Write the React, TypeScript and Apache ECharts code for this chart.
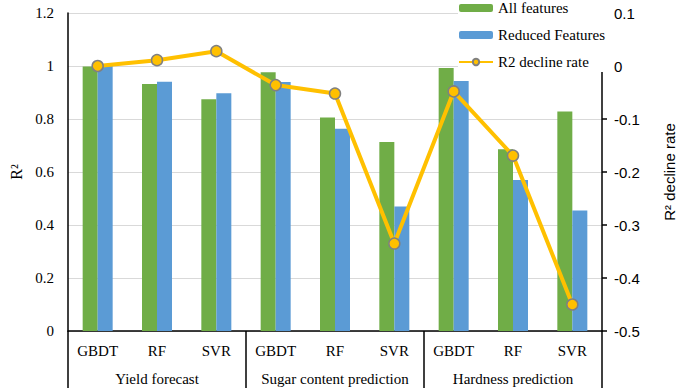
import React, { useEffect, useRef } from "react";
import * as echarts from "echarts";

const models = ["GBDT", "RF", "SVR", "GBDT", "RF", "SVR", "GBDT", "RF", "SVR"];
const groups = ["Yield forecast", "Sugar content prediction", "Hardness prediction"];
const groupSize = 3;
const allFeatures = [0.998, 0.932, 0.875, 0.976, 0.806, 0.713, 0.992, 0.686, 0.828];
const reducedFeatures = [1.0, 0.941, 0.897, 0.94, 0.763, 0.47, 0.943, 0.57, 0.455];
const declineRate = [0.0, 0.011, 0.028, -0.036, -0.052, -0.335, -0.048, -0.169, -0.45];

const serif = "Liberation Serif";
const sans = "Liberation Sans";

export default function App() {
  const ref = useRef<HTMLDivElement>(null);
  useEffect(() => {
    if (!ref.current) return;
    const chart = echarts.init(ref.current, undefined, { renderer: "svg" });
    chart.setOption({
      animation: false,
      backgroundColor: "#fff",
      grid: { left: 56, right: 72, top: 13, bottom: 57 },
      legend: {
        orient: "vertical",
        left: 458,
        top: -2,
        padding: [0, 2, 0, 0],
        backgroundColor: "#fff",
        itemWidth: 34,
        itemHeight: 8,
        itemGap: 7,
        textStyle: { fontFamily: serif, fontSize: 15, color: "#000", lineHeight: 20 },
        data: ["All features", "Reduced Features", "R2 decline rate"],
      },
      xAxis: [
        {
          type: "category",
          data: models,
          position: "bottom",
          axisLine: { show: true, lineStyle: { color: "#000", width: 1.5 } },
          axisTick: { show: false },
          axisLabel: { interval: 0, margin: 12, fontFamily: serif, fontSize: 15, color: "#000" },
        },
        {
          type: "category",
          data: groups,
          position: "bottom",
          axisLine: { show: false },
          axisTick: { show: false },
          axisLabel: { interval: 0, margin: 40, fontFamily: serif, fontSize: 15, color: "#000" },
        },
      ],
      yAxis: [
        {
          type: "value",
          min: 0,
          max: 1.2,
          interval: 0.2,
          name: "R²",
          nameLocation: "middle",
          nameGap: 44,
          nameRotate: 90,
          nameTextStyle: { fontFamily: serif, fontSize: 16, color: "#000" },
          axisLine: { show: true, lineStyle: { color: "#000", width: 1.5 } },
          axisTick: { show: false },
          axisLabel: { margin: 14, fontFamily: serif, fontSize: 15, color: "#000" },
          splitLine: { show: true, lineStyle: { color: "#d9d9d9", width: 1 } },
        },
        {
          type: "value",
          min: -0.5,
          max: 0.1,
          interval: 0.1,
          position: "right",
          name: "R² decline rate",
          nameLocation: "middle",
          nameGap: 60,
          nameRotate: 90,
          nameTextStyle: { fontFamily: sans, fontSize: 15, color: "#000" },
          axisLine: { show: true, lineStyle: { color: "#000", width: 1.5 } },
          axisTick: { show: true, inside: false, length: 5, lineStyle: { color: "#000", width: 1.5 } },
          axisLabel: { margin: 12, fontFamily: sans, fontSize: 15, color: "#000" },
          splitLine: { show: false },
        },
      ],
      series: [
        {
          name: "All features",
          type: "bar",
          data: allFeatures,
          barWidth: 15,
          barGap: "0%",
          itemStyle: { color: "#70AD47" },
        },
        {
          name: "Reduced Features",
          type: "bar",
          data: reducedFeatures,
          barWidth: 15,
          barGap: "0%",
          itemStyle: { color: "#5B9BD5" },
        },
        {
          name: "R2 decline rate",
          type: "line",
          yAxisIndex: 1,
          data: declineRate,
          symbol: "circle",
          symbolSize: 11,
          lineStyle: { color: "#FFC000", width: 4 },
          itemStyle: { color: "#FFC000", borderColor: "#808080", borderWidth: 1.5 },
          z: 5,
        },
      ],
    });

    // group separators at band boundaries, computed from the category axis
    const x0 = chart.convertToPixel({ xAxisIndex: 0 }, 0) as number;
    const x1 = chart.convertToPixel({ xAxisIndex: 0 }, 1) as number;
    const band = x1 - x0;
    const yBase = chart.convertToPixel({ yAxisIndex: 0 }, 0) as number;
    const h = ref.current.clientHeight;
    const lines: any[] = [];
    for (let g = 0; g <= groups.length; g++) {
      const x = x0 - band / 2 + g * groupSize * band;
      lines.push({
        type: "line",
        shape: { x1: x, y1: yBase, x2: x, y2: h },
        style: { stroke: "#000", lineWidth: 1.5 },
        silent: true,
      });
    }
    chart.setOption({ graphic: lines });
    return () => chart.dispose();
  }, []);
  return <div ref={ref} style={{ width: 685, height: 388, position: "absolute", left: 0, top: 0 }} />;
}
